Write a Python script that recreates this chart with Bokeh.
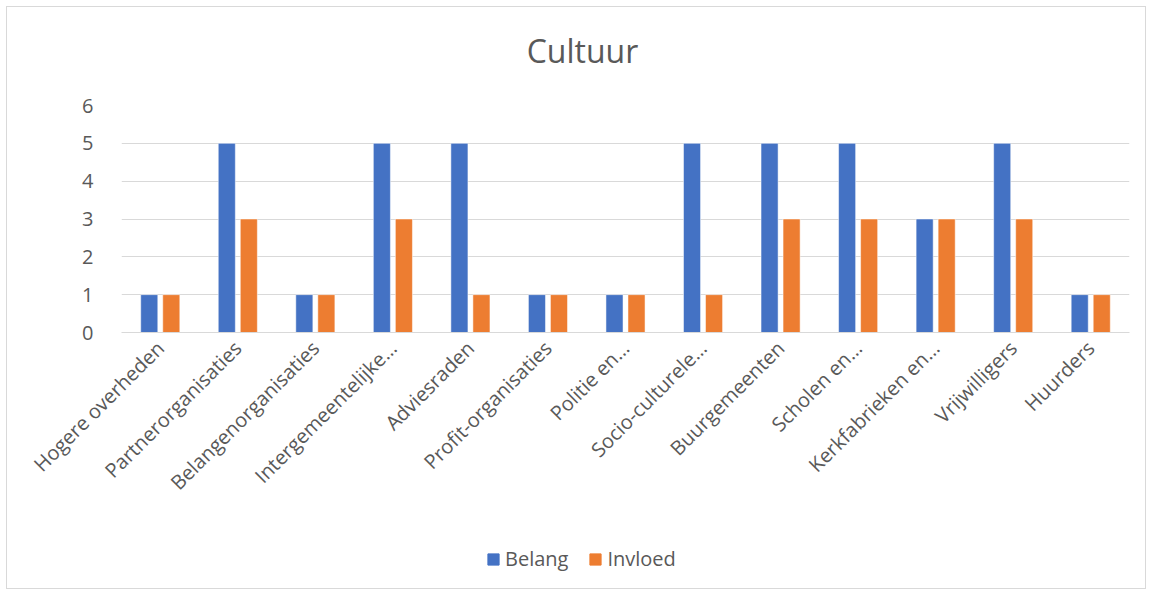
import math
from bokeh.plotting import figure
from bokeh.layouts import column
from bokeh.models import FactorRange, FixedTicker, Legend, LegendItem, ColumnDataSource, Label
from bokeh.transform import dodge
from bokeh.embed import file_html
from bokeh.resources import INLINE

categories = ["Hogere overheden", "Partnerorganisaties", "Belangenorganisaties",
              "Intergemeentelijke…", "Adviesraden", "Profit-organisaties",
              "Politie en…", "Socio-culturele…", "Buurgemeenten", "Scholen en…",
              "Kerkfabrieken en…", "Vrijwilligers", "Huurders"]
belang = [1, 5, 1, 5, 5, 1, 1, 5, 5, 5, 3, 5, 1]
invloed = [1, 3, 1, 3, 1, 1, 1, 1, 3, 3, 3, 3, 1]
y_ticks = [0, 1, 2, 3, 4, 5, 6]
series = ["Belang", "Invloed"]
colors = ["#4472C4", "#ED7D31"]
chart_title = "Cultuur"

src = ColumnDataSource(dict(cat=categories, belang=belang, invloed=invloed))

FONT = "Open Sans"
GREY = "#595959"
W = 1138

# title strip (its frame is aligned with the main chart's frame: 114 .. 1122)
tf = figure(width=W, height=80, x_range=(0, 1), y_range=(0, 1), output_backend="svg",
            toolbar_location=None, min_border=0, title=None)
tf.axis.visible = False
tf.grid.visible = False
tf.outline_line_color = None
tf.add_layout(Label(x=(575 - 114) / 1008, y=37 / 80, text=chart_title, text_align="center",
                    text_baseline="middle", text_font=FONT, text_font_size="32px",
                    text_color=GREY))

# main chart
p = figure(x_range=FactorRange(*categories, range_padding=0), y_range=(0, 6),
           frame_width=1008, frame_height=227, output_backend="svg", toolbar_location=None,
           title=None, min_border_left=114, min_border_right=16, min_border_top=18,
           min_border_bottom=192)
p.outline_line_color = None

p.vbar(x=dodge("cat", -0.142, range=p.x_range), top="belang", width=0.22,
       source=src, fill_color=colors[0], line_color="white", line_width=0.5)
p.vbar(x=dodge("cat", 0.142, range=p.x_range), top="invloed", width=0.22,
       source=src, fill_color=colors[1], line_color="white", line_width=0.5)

p.yaxis.ticker = FixedTicker(ticks=y_ticks)
p.yaxis.axis_line_color = None
p.yaxis.major_tick_line_color = None
p.yaxis.minor_tick_line_color = None
p.yaxis.major_label_text_font = FONT
p.yaxis.major_label_text_font_size = "20px"
p.yaxis.major_label_text_color = GREY
p.yaxis.major_label_standoff = 22

p.xaxis.axis_line_color = "#d9d9d9"
p.xaxis.major_tick_line_color = None
p.xaxis.minor_tick_line_color = None
p.xaxis.major_label_orientation = math.pi / 4
p.xaxis.major_label_text_font = FONT
p.xaxis.major_label_text_font_size = "20px"
p.xaxis.major_label_text_color = GREY
p.xaxis.major_label_standoff = 6

p.xgrid.grid_line_color = None
p.ygrid.grid_line_color = "#d9d9d9"
p.ygrid.grid_line_width = 1

# legend strip below the chart (proxy renderers sit outside the visible range)
lf = figure(width=W, height=64, x_range=(0, 1), y_range=(0, 1), output_backend="svg",
            toolbar_location=None, min_border=0, title=None)
lf.axis.visible = False
lf.grid.visible = False
lf.outline_line_color = None
items = []
for name, col in zip(series, colors):
    r = lf.vbar(x=[-10], top=[-10], width=0.1, fill_color=col, line_color=col)
    items.append(LegendItem(label=name, renderers=[r]))
legend = Legend(items=items, orientation="horizontal", location=(365, 16))
legend.label_text_font = FONT
legend.label_text_font_size = "20px"
legend.label_text_color = GREY
legend.glyph_width = 14
legend.glyph_height = 14
legend.spacing = 20
legend.label_standoff = 5
legend.padding = 4
legend.margin = 0
legend.border_line_color = None
legend.background_fill_alpha = 0
lf.add_layout(legend, "center")

layout = column(tf, p, lf, spacing=0)
layout.margin = (6, 0, 0, 6)
layout.styles = {"border": "1px solid #d9d9d9", "background": "white"}

open("out.html", "w").write(file_html(layout, INLINE))
